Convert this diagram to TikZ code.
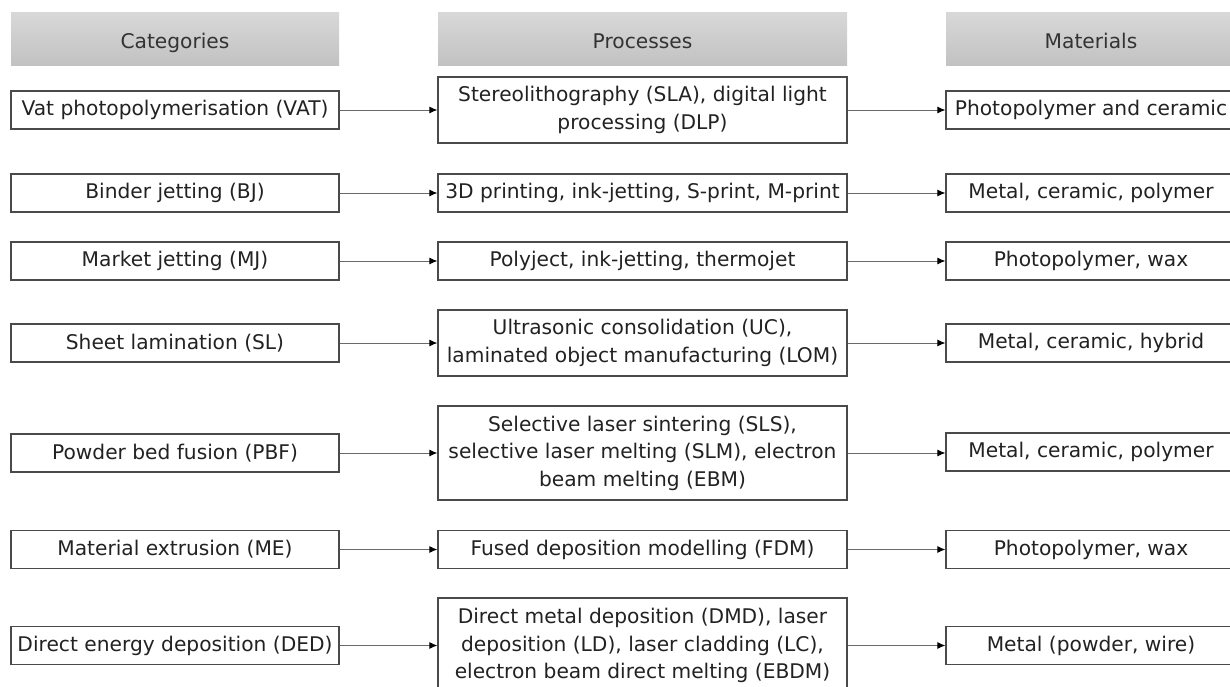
\documentclass[tikz,border=0pt]{standalone}
\usepackage{fontspec}
\setmainfont{DejaVu Sans}
\usetikzlibrary{arrows.meta}
\definecolor{boxline}{HTML}{4A4A4A}
\definecolor{arrline}{HTML}{6A6A6A}
\definecolor{txt}{HTML}{222222}
\definecolor{hdtop}{HTML}{D8D8D8}
\definecolor{hdbot}{HTML}{C2C2C2}
\begin{document}
\begin{tikzpicture}[x=1pt,y=-1pt,
  every node/.style={font=\fontsize{20.2}{27.5}\selectfont, text=txt, inner sep=1pt},
  hdr/.style={shape=rectangle, top color=hdtop, bottom color=hdbot, draw=none, minimum height=53pt, text=black!80, text height=19pt, text depth=0pt},
  cbox/.style={draw=boxline, line width=1.3pt, fill=white, minimum width=328pt, align=center},
  pbox/.style={draw=boxline, line width=1.3pt, fill=white, minimum width=409pt, align=center},
  mbox/.style={draw=boxline, line width=1.3pt, fill=white, minimum width=290pt, minimum height=38pt, align=center},
  arr/.style={draw=arrline, line width=0.9pt, -{Latex[length=8pt,width=7pt,color=black]}}
]
\useasboundingbox (0,0) rectangle (1230,686);
\clip (0,0) rectangle (1230,686);
% headers
\node[hdr, minimum width=328pt] (hC) at (175,38.5) {Categories};
\node[hdr, minimum width=409pt] (hP) at (642.5,38.5) {Processes};
\node[hdr, minimum width=290pt] (hM) at (1091,38.5) {Materials};
% categories
\node[cbox, minimum height=38pt] (c1) at (175,110) {Vat photopolymerisation (VAT)};
\node[cbox, minimum height=38pt] (c2) at (175,193) {Binder jetting (BJ)};
\node[cbox, minimum height=38pt] (c3) at (175,261) {Market jetting (MJ)};
\node[cbox, minimum height=38pt] (c4) at (175,343) {Sheet lamination (SL)};
\node[cbox, minimum height=38pt] (c5) at (175,453) {Powder bed fusion (PBF)};
\node[cbox, minimum height=38pt] (c6) at (175,549.5) {Material extrusion (ME)};
\node[cbox, minimum height=38pt] (c7) at (175,645.5) {Direct energy deposition (DED)};
% processes
\node[pbox, minimum height=66pt] (p1) at (642.5,110) {Stereolithography (SLA), digital light\\processing (DLP)};
\node[pbox, minimum height=38pt, inner sep=0.5pt] (p2) at (642.5,193) {3D printing, ink-jetting, S-print, M-print};
\node[pbox, minimum height=38pt] (p3) at (642.5,261) {Polyject, ink-jetting, thermojet};
\node[pbox, minimum height=66pt] (p4) at (642.5,343) {Ultrasonic consolidation (UC),\\laminated object manufacturing (LOM)};
\node[pbox, minimum height=94pt] (p5) at (642.5,453) {Selective laser sintering (SLS),\\selective laser melting (SLM), electron\\beam melting (EBM)};
\node[pbox, minimum height=38pt] (p6) at (642.5,549.5) {Fused deposition modelling (FDM)};
\node[pbox, minimum height=95pt] (p7) at (642.5,645.5) {Direct metal deposition (DMD), laser\\deposition (LD), laser cladding (LC),\\electron beam direct melting (EBDM)};
% materials
\node[mbox] (m1) at (1091,110) {Photopolymer and ceramic};
\node[mbox] (m2) at (1091,193) {Metal, ceramic, polymer};
\node[mbox] (m3) at (1091,261) {Photopolymer, wax};
\node[mbox] (m4) at (1091,343) {Metal, ceramic, hybrid};
\node[mbox] (m5) at (1091,452) {Metal, ceramic, polymer};
\node[mbox] (m6) at (1091,549.5) {Photopolymer, wax};
\node[mbox] (m7) at (1091,645.5) {Metal (powder, wire)};
% connectors
\foreach \i in {1,...,7}{
  \draw[arr] (c\i.east) -- (p\i.west);
  \draw[arr] (p\i.east |- c\i.east) -- (m\i.west |- c\i.east);
}
\end{tikzpicture}
\end{document}
